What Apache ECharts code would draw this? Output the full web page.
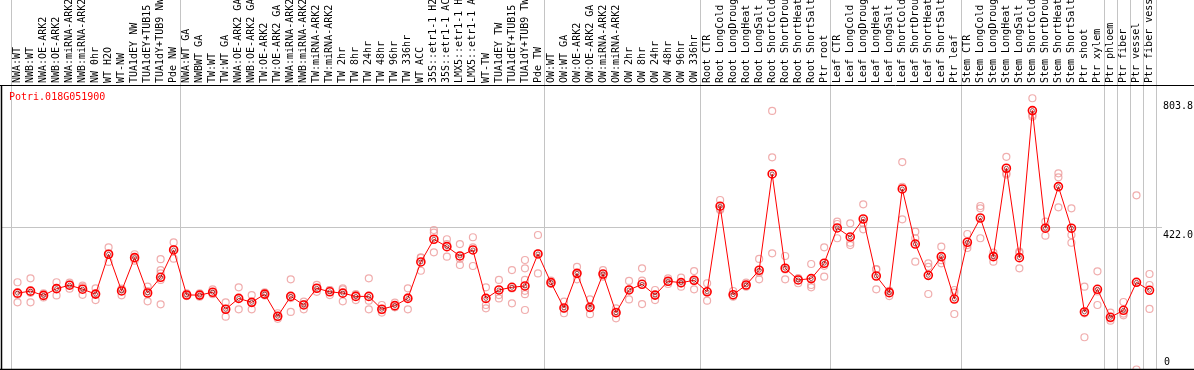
<!DOCTYPE html>
<html><head><meta charset="utf-8">
<script src="https://cdn.jsdelivr.net/npm/echarts@6/dist/echarts.min.js"></script>
<style>html,body{margin:0;padding:0;background:#fff}#c{width:1194px;height:370px}</style>
</head><body><div id="c"></div>
<script>
const geneId = 'Potri.018G051900';

const categories = [
  'NWA:WT','NWB:WT','NWA:OE-ARK2','NWB:OE-ARK2','NWA:miRNA-ARK2','NWB:miRNA-ARK2','NW 0hr','WT H2O','WT-NW','TUA1dEY NW','TUA1dEY+TUB15 NW','TUA1dY+TUB9 NW','Pde NW',
  'NWA:WT GA','NWBWT GA','TW:WT','TW:WT GA','NWA:OE-ARK2 GA','NWB:OE-ARK2 GA','TW:OE-ARK2','TW:OE-ARK2 GA','NWA:miRNA-ARK2 GA','NWB:miRNA-ARK2 GA','TW:miRNA-ARK2','TW:miRNA-ARK2 GA',
  'TW 2hr','TW 8hr','TW 24hr','TW 48hr','TW 96hr','TW 336hr','WT ACC','35S::etr1-1 H2O','35S::etr1-1 ACC','LMX5::etr1-1 H2O','LMX5::etr1-1 ACC','WT-TW','TUA1dEY TW','TUA1dEY+TUB15 TW','TUA1dY+TUB9 TW','Pde TW',
  'OW:WT','OW:WT GA','OW:OE-ARK2','OW:OE-ARK2 GA','OW:miRNA-ARK2','OW:miRNA-ARK2 GA','OW 2hr','OW 8hr','OW 24hr','OW 48hr','OW 96hr','OW 336hr',
  'Root CTR','Root LongCold','Root LongDrought','Root LongHeat','Root LongSalt','Root ShortCold','Root ShortDrought','Root ShortHeat','Root ShortSalt','Ptr root',
  'Leaf CTR','Leaf LongCold','Leaf LongDrought','Leaf LongHeat','Leaf LongSalt','Leaf ShortCold','Leaf ShortDrought','Leaf ShortHeat','Leaf ShortSalt','Ptr leaf',
  'Stem CTR','Stem LongCold','Stem LongDrought','Stem LongHeat','Stem LongSalt','Stem ShortCold','Stem ShortDrought','Stem ShortHeat','Stem ShortSalt','Ptr shoot','Ptr xylem',
  'Ptr phloem','Ptr fiber','Ptr vessel','Ptr fiber vessel'
];

const means = [
  226.3,232.2,219.5,239.5,249.8,238,223.4,341.5,232.7,331.4,226.7,273.2,354.2,
  220.8,220.5,228.9,178.5,210.7,199,223.4,157.7,216.6,191.2,240.7,230.2,226.3,216.6,216.6,178.5,189.2,210.7,318.7,385.9,364,336.4,354.2,210.7,235.7,243.6,247.5,342.4,
  257.3,182.4,284.9,184.3,283,168.3,235.7,252.5,220.5,261.5,257.3,264.4,
  230.2,483.8,221.7,250.4,294.1,579.4,300,265.4,269.3,314.8,
  419.4,392.8,446,277.1,227.7,535,371.8,279,334.4,208.7,
  377,448.9,334.4,596.3,331.4,767.2,418.6,541.9,418.7,170.5,237.7,
  154.7,175.4,258.4,234.7
];

const replicates = [
  [258.5,199,221.4],[270.2,199,227.2],[225.3,213.6,219.5],[258.5,219.5,240],[257.5,239.5,251.6],
  [248.3,221.4,243.8],[240.6,205.8,224.3],[362,318.7,343.4],[237.7,219.9,240],[341.5,322.4,329.7],
  [245.4,201.9,232.2],[326.8,294.6,284.8,265.3,193.1],[376.6,328.4,357],
  [225.3,217.5,220.4],[225.3,215.5,220.4],[237.7,223.3,225.3],[199,156.5,179.4],[243.5,178.4,210.6],
  [220.4,178.4,199],[228.8,221.4,219.5],[166.7,150.1,156],[267.2,170.6,211.6],[200.9,178.4,194],
  [250.6,230.2,240.9],[235.6,220.4,235],[240.6,201.9,237],[223.3,205.8,220.4],[270.2,203.8,178.4],
  [191.1,168.7,175.5],[198,184.3,185.3],[240.6,178.4,213.6],[332.6,292.6,330.7],[413.4,405.4,347.3],
  [385.9,334.3,371.7],[371.7,309.7,327.8],[391.8,362,306.7],[243.5,191.1,181.4],[265.3,220.4,210.6],
  [294.6,196,240],[324.4,299.9,265.3,233.1,223.3,176.3],[398.5,284.8,343.4],
  [263.3,253.4,254.6],[200.9,166.7,179.4],[304.3,267.2,282.9],[207.7,163.8,181.4],[294.6,275.1,279],
  [181.4,151.7,171.6],[262.4,207.7,237],[299.9,194,263.3],[235.6,205.8,220.4],[270.2,253.4,260.4],
  [272.1,245.4,254.6],[291.6,237.7,263.3],
  [255.5,203.8,231.1],[502.3,472.6,476.1],[232.6,215.5,217.5],[257.2,245.4,248.7],[327.5,267.2,286.8],
  [766.2,628.8,344.3],[336.3,267.2,296.5],[270.2,255.5,270.2],[312.6,250.4,243.5],[362,275.1,307.3],
  [438.1,388.9,431.2],[433.2,368.7,375.6],[489.5,415.4,433.2],[297.5,237.7,296.5],[233.1,217.5,232.1],
  [614.7,541.5,444.9],[408.4,388.9,319.5],[314.7,304.3,223.7],[363.9,314.7,323.9],[235.6,227.6,164.5],
  [401.5,368.7,360],[484.5,477.7,388.9],[337.2,319.5,346.3],[630.3,581.4,577.6],[349.1,299.9,345.3],
  [803.8,754.3,749.1],[438.1,396.5,420.5],[581.4,569.5,480.6],[477.7,398.5,375.6],[245.4,166.5,95.5],
  [291,191.1,231.1],
  [168.3,144.7,151.1],[200,160.6,165.7],[516.1,258.5,0],[283,250.4,179.4]
];

const groupStarts = [0, 13, 41, 53, 63, 73, 84, 85, 86, 87];
const yLabelValues = [422.0, 803.8];
const yZeroLabel = [0];
const gridLineValue = 422.0;
const yMax = 843;

const FONT = 'DejaVu Sans Mono';
const chart = echarts.init(document.getElementById('c'), null, {renderer: 'canvas'});

const repPoints = [];
replicates.forEach((arr, i) => arr.forEach(v => repPoints.push([i, v])));
const meanPoints = means.map((v, i) => [i, v]);
const splitInterval = (idx) => groupStarts.indexOf(idx) >= 0;

const option = {
  animation: false,
  backgroundColor: '#fff',
  title: {
    text: geneId, left: 9, top: 92, padding: 0,
    textStyle: {color: '#ff0000', fontFamily: FONT, fontSize: 10, fontWeight: 'normal'}
  },
  grid: [
    {left: 11, right: 38, top: 85, bottom: 0.5, outerBoundsMode: 'none', containLabel: false},
    {left: 11, right: 38, top: 0, height: 85, outerBoundsMode: 'none', containLabel: false}
  ],
  xAxis: [
    {type: 'category', gridIndex: 0, data: categories, boundaryGap: true,
      axisLine: {show: false}, axisTick: {show: false}, axisLabel: {show: false},
      splitLine: {show: true, interval: splitInterval, lineStyle: {color: '#c4c4c4', width: 1}}},
    {type: 'category', gridIndex: 1, data: categories, boundaryGap: true, position: 'bottom',
      axisLine: {show: false}, axisTick: {show: false},
      axisLabel: {show: true, interval: 0, inside: true, rotate: 90, margin: 2,
        color: '#000', fontFamily: FONT, fontSize: 10},
      splitLine: {show: true, interval: splitInterval, lineStyle: {color: '#c4c4c4', width: 1}}}
  ],
  yAxis: [
    {type: 'value', gridIndex: 0, min: 0, max: yMax, position: 'right',
      axisLine: {show: false}, axisTick: {show: false}, splitLine: {show: false},
      axisLabel: {customValues: yLabelValues, formatter: v => Number(v).toFixed(1), margin: 7,
        verticalAlign: 'top', padding: [3, 0, 0, 0], color: '#000', fontFamily: FONT, fontSize: 10}},
    {type: 'value', gridIndex: 0, min: 0, max: yMax, position: 'right',
      axisLine: {show: false}, axisTick: {show: false}, splitLine: {show: false},
      axisLabel: {customValues: yZeroLabel, formatter: v => String(v), margin: 8,
        verticalAlign: 'bottom', padding: [0, 0, 2, 0], color: '#000', fontFamily: FONT, fontSize: 10}},
    {type: 'value', gridIndex: 1, show: false, min: 0, max: 1}
  ],
  series: [
    {type: 'scatter', xAxisIndex: 0, yAxisIndex: 0, data: repPoints, symbol: 'circle', symbolSize: 7,
      itemStyle: {color: 'transparent', borderColor: '#ec9898', borderWidth: 1.2}, z: 2, silent: true},
    {type: 'line', xAxisIndex: 0, yAxisIndex: 0, data: means, symbol: 'circle', symbolSize: 8,
      showSymbol: true, showAllSymbol: true,
      lineStyle: {color: '#ff0000', width: 1},
      itemStyle: {color: 'transparent', borderColor: '#ff0000', borderWidth: 1.6}, z: 3, silent: true},
    {type: 'scatter', xAxisIndex: 0, yAxisIndex: 0, data: meanPoints, symbol: 'circle', symbolSize: 4,
      itemStyle: {color: 'transparent', borderColor: '#700000', borderWidth: 0.8}, z: 4, silent: true}
  ]
};
chart.setOption(option);

const rect = chart.getModel().getComponent('grid', 0).coordinateSystem.getRect();
const yTop = Math.round(chart.convertToPixel({yAxisIndex: 0}, yMax)) + 0.5;
const yBot = Math.round(chart.convertToPixel({yAxisIndex: 0}, 0)) - 0.5;
const yGrid = Math.round(chart.convertToPixel({yAxisIndex: 0}, gridLineValue)) + 0.5;
const W = chart.getWidth();
chart.setOption({
  graphic: [
    {type: 'line', z: 1, shape: {x1: 2, y1: yGrid, x2: rect.x + rect.width + 6, y2: yGrid}, style: {stroke: '#c4c4c4', lineWidth: 1}},
    {type: 'line', z: 10, shape: {x1: 0, y1: yTop, x2: W, y2: yTop}, style: {stroke: '#000', lineWidth: 1}},
    {type: 'line', z: 10, shape: {x1: 0, y1: yBot, x2: W, y2: yBot}, style: {stroke: '#000', lineWidth: 1.5}},
    {type: 'line', z: 10, shape: {x1: 1.5, y1: yTop, x2: 1.5, y2: yBot}, style: {stroke: '#000', lineWidth: 1.5}}
  ]
});
</script></body></html>
